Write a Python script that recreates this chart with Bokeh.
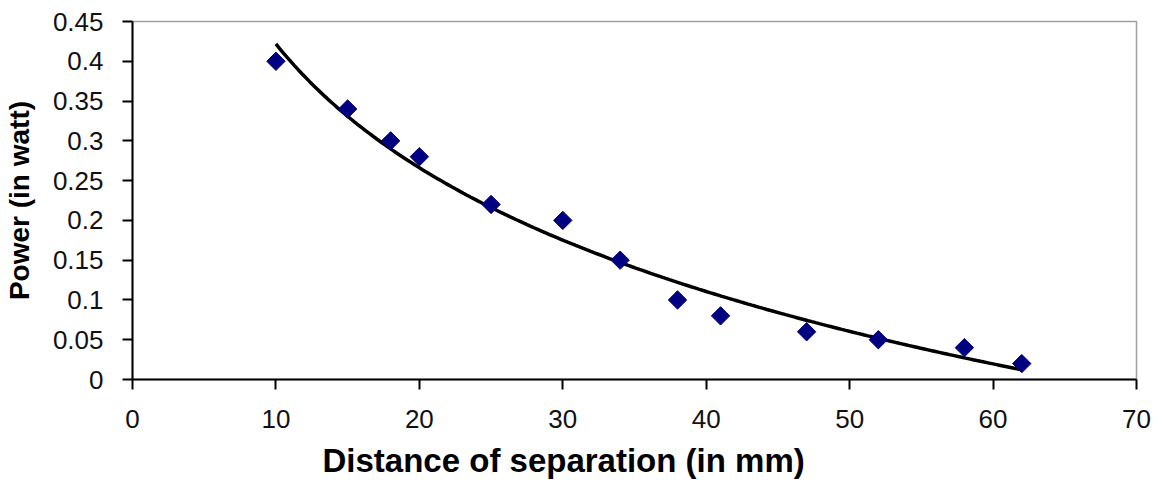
import numpy as np
from bokeh.plotting import figure
from bokeh.models import FixedTicker, Range1d, Title
from bokeh.embed import file_html
from bokeh.resources import INLINE

# Data
distance_mm = [10, 15, 18, 20, 25, 30, 34, 38, 41, 47, 52, 58, 62]
power_watt = [0.40, 0.34, 0.30, 0.28, 0.22, 0.20, 0.15, 0.10, 0.08, 0.06, 0.05, 0.04, 0.02]
x_ticks = [0, 10, 20, 30, 40, 50, 60, 70]
y_ticks = [0, 0.05, 0.1, 0.15, 0.2, 0.25, 0.3, 0.35, 0.4, 0.45]
y_tick_labels = ["0", "0.05", "0.1", "0.15", "0.2", "0.25", "0.3", "0.35", "0.4", "0.45"]
x_title = "Distance of separation (in mm)"
y_title = "Power (in watt)"

# Logarithmic trendline (least squares, as in a spreadsheet trendline)
b, a = np.polyfit(np.log(distance_mm), power_watt, 1)
trend_x = np.linspace(min(distance_mm), max(distance_mm), 200)
trend_y = a + b * np.log(trend_x)

FONT = "Liberation Sans"

p = figure(width=1152, height=489, output_backend="svg", toolbar_location=None,
           x_range=Range1d(0, 70), y_range=Range1d(0, 0.45),
           min_border_left=130, min_border_right=16, min_border_top=21, min_border_bottom=110)

p.line(trend_x, trend_y, line_color="black", line_width=3.5)
p.scatter(distance_mm, power_watt, marker="square", angle=np.pi / 4, size=13,
          fill_color="#000080", line_color="#000080")

p.xgrid.visible = False
p.ygrid.visible = False
p.outline_line_color = "#a0a0a0"
p.outline_line_width = 1.5
p.background_fill_color = "white"
p.border_fill_color = "white"

p.xaxis.ticker = FixedTicker(ticks=x_ticks)
p.yaxis.ticker = FixedTicker(ticks=y_ticks)
p.yaxis.major_label_overrides = {t: l for t, l in zip(y_ticks, y_tick_labels)}

for ax in (p.xaxis, p.yaxis):
    ax.axis_line_color = "black"
    ax.axis_line_width = 2
    ax.major_tick_line_color = "black"
    ax.major_tick_line_width = 2
    ax.major_tick_out = 10
    ax.major_tick_in = 0
    ax.minor_tick_line_color = None
    ax.major_label_text_font = FONT
    ax.major_label_text_font_size = "26px"
    ax.major_label_text_color = "#111111"
    ax.axis_label_text_font = FONT
    ax.axis_label_text_font_style = "bold"
    ax.axis_label_text_font_size = "28px"
    ax.axis_label_text_color = "black"

p.yaxis.axis_label = y_title
p.xaxis.major_label_standoff = 20
p.yaxis.major_label_standoff = 19
p.yaxis.axis_label_standoff = 15

# x-axis title, placed under the chart as in the reference
p.add_layout(Title(text=x_title, align="left", offset=190, standoff=18,
                   text_font=FONT, text_font_style="bold", text_font_size="33px",
                   text_color="black"), "below")

open("out.html", "w").write(file_html(p, INLINE))
